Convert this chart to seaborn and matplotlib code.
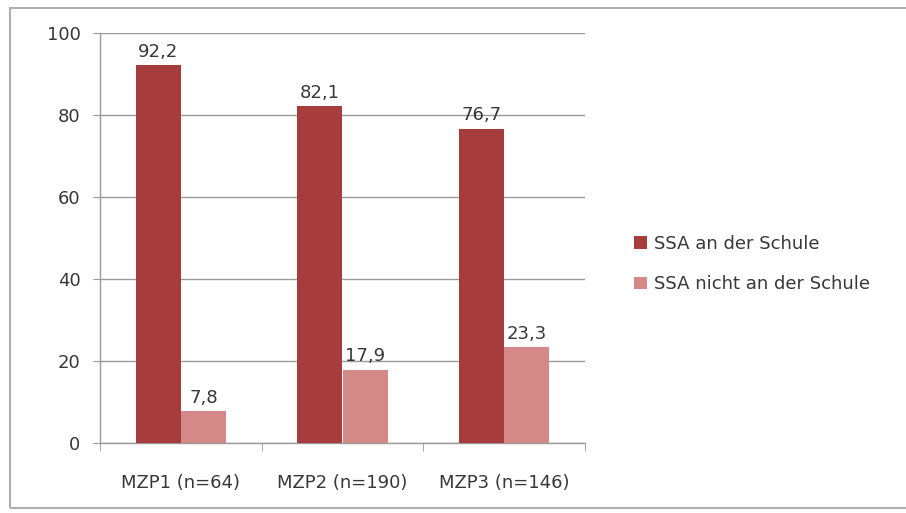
import matplotlib
matplotlib.use("Agg")
import matplotlib.pyplot as plt
import matplotlib.patches as mpatches
from matplotlib.ticker import FixedLocator
import seaborn as sns
import pandas as pd

categories = ["MZP1 (n=64)", "MZP2 (n=190)", "MZP3 (n=146)"]
series_names = ["SSA an der Schule", "SSA nicht an der Schule"]
ssa_an = [92.2, 82.1, 76.7]
ssa_nicht = [7.8, 17.9, 23.3]
y_ticks = [0, 20, 40, 60, 80, 100]

df = pd.DataFrame({
    "Messzeitpunkt": categories * 2,
    "Gruppe": [series_names[0]] * 3 + [series_names[1]] * 3,
    "Prozent": ssa_an + ssa_nicht,
})

sns.set_style("white")
plt.rcParams["font.family"] = ["DejaVu Sans"]

fig = plt.figure(figsize=(9.06, 5.13), dpi=100)
ax = fig.add_axes([100 / 906, 1 - 443 / 513, 485 / 906, 410 / 513])

palette = ["#A63C3C", "#D48888"]
sns.barplot(data=df, x="Messzeitpunkt", y="Prozent", hue="Gruppe",
            palette=palette, width=0.56, saturation=1, linewidth=0,
            ax=ax, zorder=3)

# value labels with German decimal comma
for container in ax.containers:
    ax.bar_label(container, labels=[f"{v.get_height():.1f}".replace(".", ",")
                                    for v in container],
                 padding=3, fontsize=13, color="#383838")

ax.set_ylim(0, 100)
ax.set_xlim(-0.5, 2.5)
ax.set_yticks(y_ticks)
ax.set_yticklabels([str(t) for t in y_ticks], fontsize=13, color="#383838")
ax.tick_params(axis="y", length=5, color="#999999", pad=9, direction="out", left=True)
ax.tick_params(axis="x", which="major", length=0, labelsize=13, labelcolor="#383838", pad=22)
ax.xaxis.set_minor_locator(FixedLocator([-0.5, 0.5, 1.5, 2.5]))
ax.tick_params(axis="x", which="minor", length=6, color="#999999", direction="out", bottom=True)
ax.set_xlabel("")
ax.set_ylabel("")

ax.yaxis.grid(True, color="#9a9a9a", linewidth=1)
ax.set_axisbelow(True)
for side in ["top", "right"]:
    ax.spines[side].set_visible(False)
for side in ["left", "bottom"]:
    ax.spines[side].set_color("#9a9a9a")
    ax.spines[side].set_linewidth(1)

leg = ax.legend(loc="center left", bbox_to_anchor=(618 / 906, 1 - 264 / 513),
                bbox_transform=fig.transFigure, frameon=False, fontsize=13,
                handlelength=0.7, handleheight=0.7, handletextpad=0.4,
                labelspacing=1.25, labelcolor="#383838")

# chart border
fig.patches.append(mpatches.Rectangle((10 / 906, 5 / 513), 1.0, 500 / 513,
                                      transform=fig.transFigure, fill=False,
                                      edgecolor="#b0b0b0", linewidth=1.5))

fig.savefig("out.png", dpi=100, facecolor="white")
